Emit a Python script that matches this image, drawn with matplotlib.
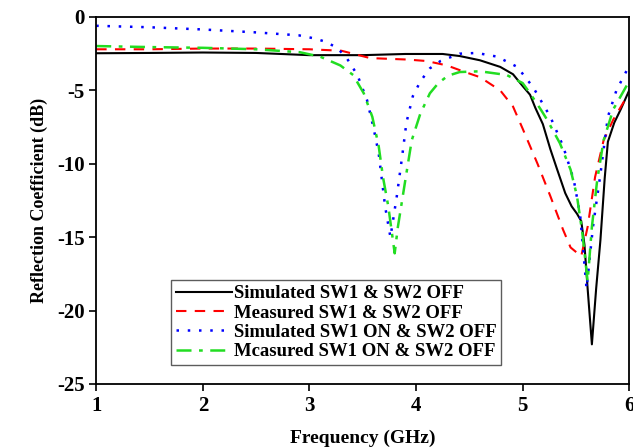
import matplotlib
matplotlib.use("Agg")
import matplotlib.pyplot as plt

# Simulated SW1 & SW2 OFF
f_sim_off = [1.0, 1.5, 2.0, 2.5, 3.0, 3.5, 3.9, 4.25, 4.41, 4.6, 4.79, 4.91, 5.0, 5.07,
             5.12, 5.19, 5.26, 5.32, 5.40, 5.46, 5.51, 5.55, 5.58, 5.61, 5.65, 5.69,
             5.73, 5.77, 5.80, 5.86, 5.92, 6.0]
s_sim_off = [-2.47, -2.45, -2.42, -2.45, -2.6, -2.6, -2.52, -2.52, -2.66, -2.95, -3.4,
             -3.9, -4.7, -5.3, -6.2, -7.3, -9.0, -10.3, -12.0, -12.9, -13.4, -13.9,
             -15.5, -18.5, -22.3, -18.5, -15.2, -11.0, -8.5, -7.2, -6.3, -5.0]

# Measured SW1 & SW2 OFF
f_mea_off = [1.0, 1.5, 2.0, 2.5, 3.0, 3.3, 3.57, 3.92, 4.10, 4.29, 4.44, 4.60, 4.79,
             4.91, 5.0, 5.14, 5.26, 5.38, 5.45, 5.55, 5.61, 5.68, 5.76, 5.85, 5.98, 6.0]
s_mea_off = [-2.2, -2.2, -2.15, -2.15, -2.2, -2.3, -2.8, -2.9, -3.0, -3.3, -3.7, -4.1,
             -5.0, -6.1, -7.6, -10.0, -12.2, -14.5, -15.7, -16.3, -14.3, -10.9, -8.4,
             -7.0, -5.4, -5.2]

# Simulated SW1 ON & SW2 OFF
f_sim_on = [1.0, 1.5, 2.0, 2.5, 2.9, 3.04, 3.15, 3.26, 3.35, 3.45, 3.54, 3.60, 3.65,
            3.68, 3.71, 3.76, 3.82, 3.87, 3.91, 3.97, 4.04, 4.13, 4.23, 4.41, 4.57,
            4.76, 4.95, 5.10, 5.26, 5.38, 5.48, 5.54, 5.60, 5.66, 5.73, 5.80, 5.88,
            5.98, 6.0]
s_sim_on = [-0.6, -0.7, -0.85, -1.05, -1.25, -1.45, -1.68, -2.1, -2.8, -3.95, -5.65,
            -7.5, -9.3, -11.1, -12.9, -15.0, -12.2, -9.5, -7.2, -5.4, -4.4, -3.5, -3.0,
            -2.5, -2.45, -2.7, -3.4, -4.8, -6.8, -8.8, -11.1, -13.5, -18.5, -14.3,
            -10.7, -6.8, -5.0, -3.6, -3.4]

# Measured SW1 ON & SW2 OFF
f_mea_on = [1.0, 1.5, 2.0, 2.5, 2.91, 3.10, 3.29, 3.41, 3.51, 3.59, 3.65, 3.69, 3.74,
            3.80, 3.83, 3.90, 3.96, 4.04, 4.13, 4.21, 4.30, 4.41, 4.60, 4.85, 5.0,
            5.07, 5.17, 5.23, 5.35, 5.45, 5.51, 5.56, 5.61, 5.65, 5.70, 5.76, 5.85,
            5.99, 6.0]
s_mea_on = [-1.98, -2.05, -2.1, -2.2, -2.4, -2.7, -3.3, -3.95, -5.2, -6.8, -8.8, -10.9,
            -12.9, -16.1, -14.3, -11.1, -8.4, -6.6, -5.2, -4.5, -4.0, -3.75, -3.7,
            -3.95, -4.5, -5.2, -6.3, -7.0, -8.6, -10.4, -12.2, -14.7, -18.0, -14.3,
            -11.1, -8.4, -6.3, -4.5, -4.4]

labels = ['Simulated SW1 & SW2 OFF', 'Measured SW1 & SW2 OFF',
          'Simulated SW1 ON & SW2 OFF', 'Mcasured SW1 ON & SW2 OFF']

plt.rcParams['font.family'] = ['Liberation Serif', 'DejaVu Serif']
plt.rcParams['font.weight'] = 'bold'
plt.rcParams['axes.unicode_minus'] = False

fig = plt.figure(figsize=(6.33, 4.47), dpi=100)
ax = fig.add_axes([0.152, 0.141, 0.842, 0.821])

ax.plot(f_sim_off, s_sim_off, color='black', lw=1.5, label=labels[0])
ax.plot(f_mea_off, s_mea_off, color='red', lw=1.5, ls=(0, (5, 4)), label=labels[1])
ax.plot(f_sim_on, s_sim_on, color='blue', lw=1.8, ls=(0, (1, 3.5)), label=labels[2])
ax.plot(f_mea_on, s_mea_on, color='#22dd22', lw=1.8, ls=(0, (6, 3, 1.5, 3)), label=labels[3])

ax.set_xlim(1, 6)
ax.set_ylim(-25, 0)
ax.set_xticks([1, 2, 3, 4, 5, 6])
ax.set_yticks([0, -5, -10, -15, -20, -25])
ax.tick_params(direction='out', length=5, width=1.2, labelsize=15)
for lab in ax.get_xticklabels() + ax.get_yticklabels():
    lab.set_fontweight('bold')
for sp in ax.spines.values():
    sp.set_linewidth(1.3)

ax.set_xlabel('Frequency (GHz)', fontsize=14, fontweight='bold', labelpad=10)
ax.set_ylabel('Reflection Coefficient (dB)', fontsize=13, fontweight='bold', labelpad=6)

leg = ax.legend(loc='upper left', bbox_to_anchor=(0.14, 0.282), fontsize=13.5,
                frameon=True, fancybox=False, handlelength=3.0, handletextpad=0.1,
                borderpad=0.25, labelspacing=0.12, borderaxespad=0)
leg.get_frame().set_edgecolor('#333333')
leg.get_frame().set_linewidth(1.0)
for t in leg.get_texts():
    t.set_fontweight('bold')

fig.savefig('out.png', dpi=100)
